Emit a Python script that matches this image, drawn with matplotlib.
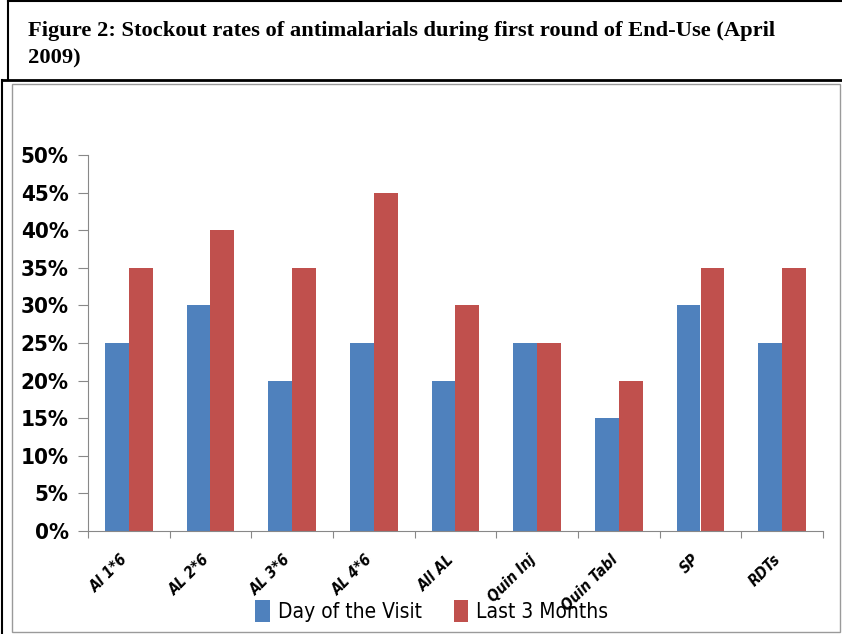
import matplotlib
matplotlib.use("Agg")
import matplotlib.pyplot as plt
from matplotlib.patches import Rectangle
from matplotlib.lines import Line2D
from matplotlib.ticker import PercentFormatter
from matplotlib.font_manager import FontProperties
from matplotlib.transforms import ScaledTranslation
import numpy as np

categories = ["Al 1*6", "AL 2*6", "AL 3*6", "AL 4*6", "All AL",
              "Quin Inj", "Quin Tabl", "SP", "RDTs"]
day_of_visit = [25, 30, 20, 25, 20, 25, 15, 30, 25]
last_3_months = [35, 40, 35, 45, 30, 25, 20, 35, 35]

blue = "#4F81BD"
red = "#C0504D"

fig = plt.figure(figsize=(8.42, 6.34), dpi=100)

# title box and chart frame
fig.add_artist(Line2D([8/842, 842/842], [1 - 1/634, 1 - 1/634], color="black", lw=1.5))
fig.add_artist(Line2D([8/842, 8/842], [1 - 80/634, 1 - 1/634], color="black", lw=1.5))
fig.add_artist(Line2D([2/842, 842/842], [1 - 80/634, 1 - 80/634], color="black", lw=2))
fig.add_artist(Line2D([2/842, 2/842], [0, 1 - 80/634], color="black", lw=1.5))
fig.add_artist(Rectangle((12/842, 2/634), 828/842, 548/634, transform=fig.transFigure,
                         fill=False, edgecolor="#9a9a9a", lw=1))

title_font = FontProperties(family="Liberation Serif", weight="bold", size=16.2)
fig.text(28/842, 1 - 31/634, "Figure 2: Stockout rates of antimalarials during first round of End-Use (April",
         fontproperties=title_font, va="center")
fig.text(28/842, 1 - 58/634, "2009)", fontproperties=title_font, va="center")

ax = fig.add_axes([88/842, 1 - 531/634, 735/842, 376/634])
x = np.arange(len(categories))
w = 0.29
ax.bar(x - w/2, day_of_visit, w, color=blue, label="Day of the Visit")
ax.bar(x + w/2, last_3_months, w, color=red, label="Last 3 Months")

ax.set_xlim(-0.5, len(categories) - 0.5)
ax.set_ylim(0, 50)
ax.set_yticks(np.arange(0, 51, 5))
ax.yaxis.set_major_formatter(PercentFormatter(decimals=0))
for s in ["top", "right"]:
    ax.spines[s].set_visible(False)
ax.spines["left"].set_color("#888888")
ax.spines["bottom"].set_color("#888888")
ax.tick_params(axis="y", colors="#888888", length=7, pad=7, labelcolor="black")
ytick_font = FontProperties(family="DejaVu Sans", weight="bold", stretch="condensed", size=16)
for lab in ax.get_yticklabels():
    lab.set_fontproperties(ytick_font)

ax.set_xticks(np.arange(len(categories) + 1) - 0.5, minor=False)
ax.set_xticklabels([])
ax.tick_params(axis="x", colors="#888888", length=5)
xtick_font = FontProperties(family="DejaVu Sans", weight="bold", style="italic",
                            stretch="condensed", size=11)
ax.set_xticks(x, minor=True)
ax.set_xticklabels(categories, minor=True, rotation=45, ha="right", rotation_mode="anchor",
                   fontproperties=xtick_font)
ax.tick_params(axis="x", which="minor", length=0, pad=15)
shift = ScaledTranslation(-9/100, 0, fig.dpi_scale_trans)
for lab in ax.get_xticklabels(minor=True):
    lab.set_transform(lab.get_transform() + shift)

leg_font = FontProperties(family="DejaVu Sans", stretch="condensed", size=15)
leg = fig.legend(loc="center", bbox_to_anchor=(432/842, 1 - 611/634), ncol=2, frameon=False,
                 prop=leg_font, handlelength=0.7, handleheight=1.3,
                 handletextpad=0.4, columnspacing=1.5)

fig.savefig("out.png", dpi=100)
